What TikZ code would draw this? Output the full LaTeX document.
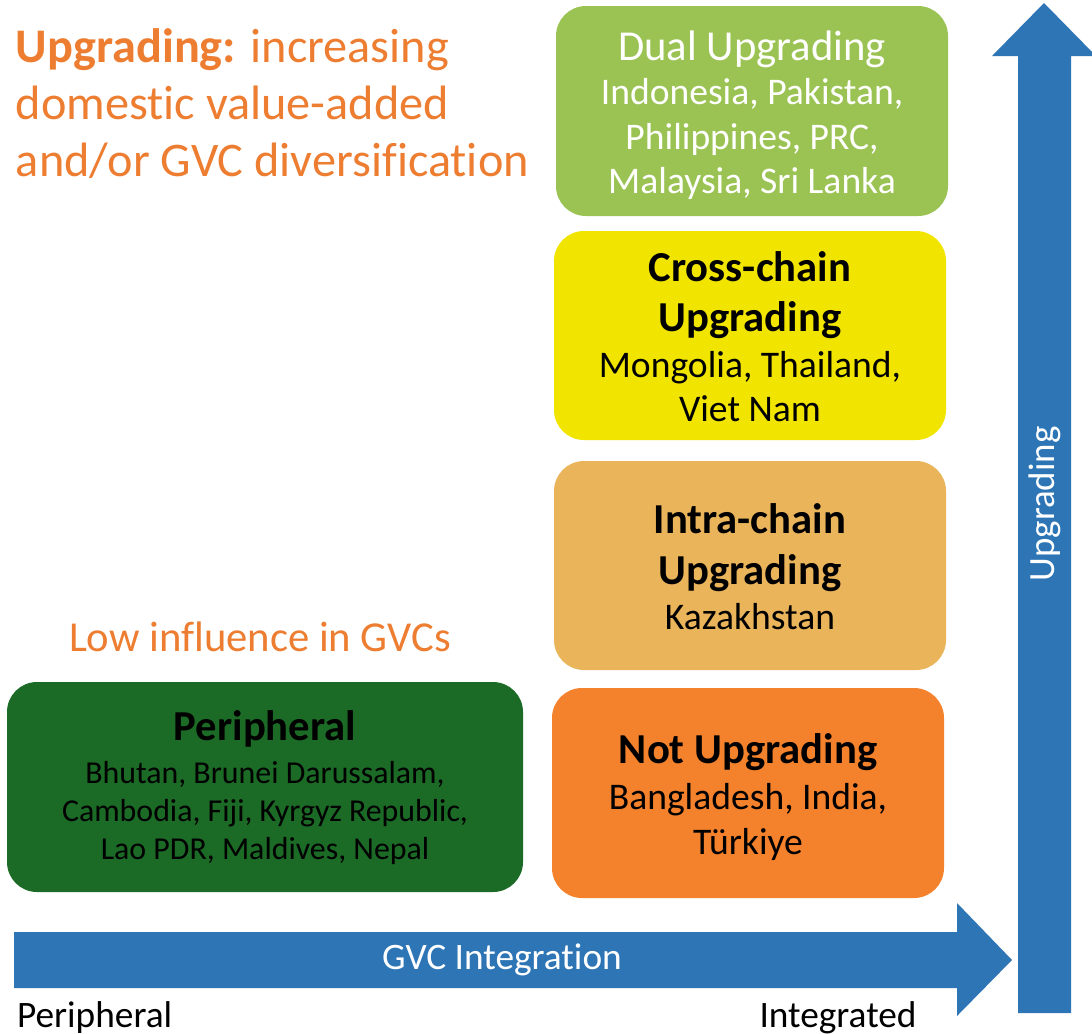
\documentclass[tikz,border=0pt]{standalone}
\usepackage{fontspec}
\setmainfont{Carlito}[Ligatures=NoCommon]
\begin{document}
\begin{tikzpicture}[x=0.75pt,y=-0.75pt,
  box/.style={rounded corners=22.5pt, draw=none},
  txt/.style={anchor=base, inner sep=0pt, outer sep=0pt},
  head/.style={txt, font=\fontsize{32}{38}\selectfont\bfseries},
  land/.style={txt, font=\fontsize{28.2}{34}\selectfont},
  small/.style={txt, font=\fontsize{23.9}{28}\selectfont},
  note/.style={txt, anchor=base west, text=noteorange, font=\fontsize{36.2}{43}\selectfont}]
\definecolor{arrowblue}{RGB}{46,117,182}
\definecolor{noteorange}{RGB}{237,125,49}
\definecolor{dualgreen}{RGB}{155,195,83}
\definecolor{crossyellow}{RGB}{241,229,0}
\definecolor{intrasand}{RGB}{234,180,90}
\definecolor{notorange}{RGB}{244,129,43}
\definecolor{periphgreen}{RGB}{27,106,38}
\useasboundingbox (0,0) rectangle (1092,1033);

% axis arrows
\fill[arrowblue] (14,932) -- (957,932) -- (957,903) -- (1012,960) -- (957,1016)
  -- (957,988) -- (14,988) -- cycle;
\fill[arrowblue] (1018,1013) -- (1018,56) -- (992,56) -- (1044,3) -- (1096,56)
  -- (1071,56) -- (1071,1013) -- cycle;
\node[txt, text=white, font=\fontsize{28}{33}\selectfont] (xlab) at (502,969) {GVC Integration};
\node[txt, text=white, rotate=90, font=\fontsize{27.7}{33}\selectfont] (ylab) at (1054,504) {Upgrading};
\node[txt, anchor=base west, font=\fontsize{28}{33}\selectfont] (xlo) at (17,1027) {Peripheral};
\node[txt, font=\fontsize{28}{33}\selectfont] (xhi) at (838,1027) {Integrated};

% heading note
\node[note] (n1) at (16,62) {\textbf{Upgrading:} increasing};
\node[note] (n2) at (16,119) {domestic value-added};
\node[note] (n3) at (16,176) {and/or GVC diversification};
\node[txt, text=noteorange, font=\fontsize{32}{38}\selectfont] (low) at (260,651) {Low influence in GVCs};

% category boxes
\fill[box, dualgreen] (556,6) rectangle (948,216);
\fill[box, crossyellow] (554,231) rectangle (946,440);
\fill[box, intrasand] (554,461) rectangle (946,670);
\fill[box, notorange] (552,688) rectangle (944,898);
\fill[box, periphgreen] (7,682) rectangle (523,892);

% Dual upgrading
\node[txt, text=white, font=\fontsize{32}{38}\selectfont] (d0) at (752,60) {Dual Upgrading};
\node[land, text=white] (d1) at (752,104) {Indonesia, Pakistan,};
\node[land, text=white] (d2) at (752,149) {Philippines, PRC,};
\node[land, text=white] (d3) at (752,193) {Malaysia, Sri Lanka};

% Cross-chain upgrading
\node[head] (c0) at (750,281) {Cross-chain};
\node[head] (c1) at (750,331) {Upgrading};
\node[land] (c2) at (750,377) {Mongolia, Thailand,};
\node[land] (c3) at (750,421) {Viet Nam};

% Intra-chain upgrading
\node[head] (i0) at (750,533) {Intra-chain};
\node[head] (i1) at (750,584) {Upgrading};
\node[land] (i2) at (750,629) {Kazakhstan};

% Not upgrading
\node[head] (u0) at (748,763) {Not Upgrading};
\node[land] (u1) at (748,809) {Bangladesh, India,};
\node[land] (u2) at (748,854) {Türkiye};

% Peripheral
\node[head] (p0) at (265,740) {Peripheral};
\node[small] (p1) at (265,783) {Bhutan, Brunei Darussalam,};
\node[small] (p2) at (265,821) {Cambodia, Fiji, Kyrgyz Republic,};
\node[small] (p3) at (265,859) {Lao PDR, Maldives, Nepal};
\end{tikzpicture}
\end{document}
